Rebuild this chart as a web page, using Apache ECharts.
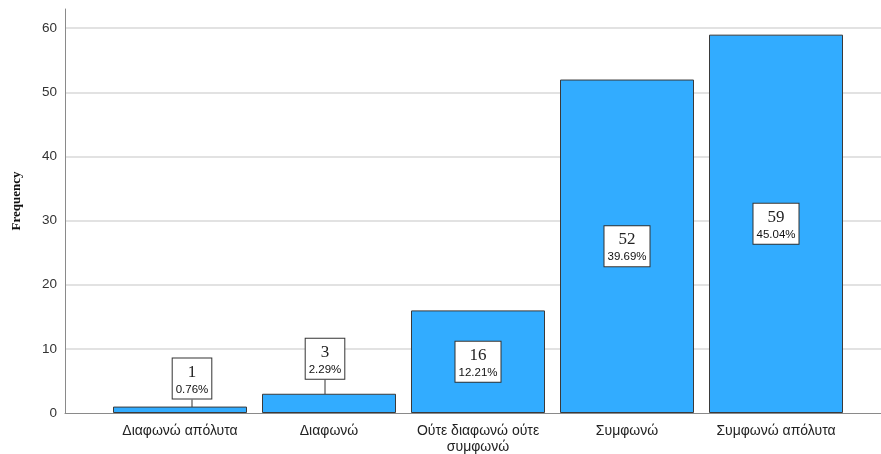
<!DOCTYPE html>
<html>
<head>
<meta charset="utf-8">
<script src="https://cdn.jsdelivr.net/npm/echarts@6/dist/echarts.min.js"></script>
<style>html,body{margin:0;padding:0;background:#fff}#c{width:881px;height:454px}</style>
</head>
<body>
<div id="c"></div>
<script>
const categories = ['Διαφωνώ απόλυτα', 'Διαφωνώ', 'Ούτε διαφωνώ ούτε συμφωνώ', 'Συμφωνώ', 'Συμφωνώ απόλυτα'];
const frequencies = [1, 3, 16, 52, 59];
const percents = ['0.76%', '2.29%', '12.21%', '39.69%', '45.04%'];
const yTicks = [0, 10, 20, 30, 40, 50, 60];

const labelShift = {0: {dx: 12, dy: -8}, 1: {dx: -4, dy: -15}};

function wrap(text, maxChars) {
  const words = text.split(' ');
  const lines = [];
  let cur = '';
  words.forEach(w => {
    const next = cur ? cur + ' ' + w : w;
    if (next.length > maxChars && cur) { lines.push(cur); cur = w; }
    else cur = next;
  });
  if (cur) lines.push(cur);
  return lines.join('\n');
}

const chart = echarts.init(document.getElementById('c'), null, {renderer: 'canvas'});
const data = frequencies.map((v, i) => {
  const item = {value: v};
  if (v < 5) {
    item.label = {position: 'top', distance: 0};
  }
  return item;
});

chart.setOption({
  animation: false,
  grid: [
    {left: 65, right: 0, top: 9, bottom: 41, outerBoundsMode: 'none', containLabel: false},
    {left: 105.5, right: 30.5, top: 9, bottom: 41, outerBoundsMode: 'none', containLabel: false}
  ],
  xAxis: [
    {gridIndex: 0, type: 'value', min: 0, max: 1, axisLine: {show: true, lineStyle: {color: '#8a8a8a', width: 1}},
     axisTick: {show: false}, axisLabel: {show: false}, splitLine: {show: false}},
    {gridIndex: 1, type: 'category', data: categories,
     axisLine: {show: false}, axisTick: {show: false},
     axisLabel: {interval: 0, margin: 10, color: '#222', fontFamily: 'Liberation Sans', fontSize: 14,
       lineHeight: 16, formatter: v => wrap(v, 18)}}
  ],
  yAxis: [
    {gridIndex: 0, type: 'value', min: 0, max: 63, interval: 10,
     name: 'Frequency', nameLocation: 'middle', nameGap: 42, nameRotate: 90,
     nameTextStyle: {fontFamily: 'Liberation Serif', fontWeight: 'bold', fontSize: 13, color: '#111',
       padding: [0, 0, 0, 20]},
     axisLine: {show: true, lineStyle: {color: '#8a8a8a', width: 1}},
     axisTick: {show: false},
     axisLabel: {showMaxLabel: false, margin: 8, color: '#333', fontFamily: 'Liberation Sans', fontSize: 13.5,
       formatter: v => (yTicks.indexOf(v) >= 0 ? String(v) : '')},
     splitLine: {show: true, showMinLine: false, showMaxLine: false, lineStyle: {color: '#d9d9d9', width: 1.5}}},
    {gridIndex: 1, type: 'value', min: 0, max: 63, interval: 10, show: false, splitLine: {show: false}}
  ],
  series: [{
    type: 'bar',
    xAxisIndex: 1, yAxisIndex: 1,
    data: data,
    barWidth: 134,
    itemStyle: {color: '#32acff', borderColor: '#3a3a3a', borderWidth: 1},
    label: {
      show: true, position: 'inside',
      formatter: p => '{a|' + p.value + '}\n{b|' + percents[p.dataIndex] + '}',
      backgroundColor: '#fff', borderColor: '#333', borderWidth: 1, padding: [3, 3, 2, 3],
      align: 'center',
      rich: {
        a: {fontFamily: 'Liberation Serif', fontSize: 17, lineHeight: 21, color: '#222', align: 'center'},
        b: {fontFamily: 'Liberation Sans', fontSize: 11.5, lineHeight: 14, color: '#111', align: 'center'}
      }
    },
    labelLine: {show: true, lineStyle: {color: '#333', width: 1}},
    labelLayout: p => labelShift[p.dataIndex] || {}
  }]
});
</script>
</body>
</html>
